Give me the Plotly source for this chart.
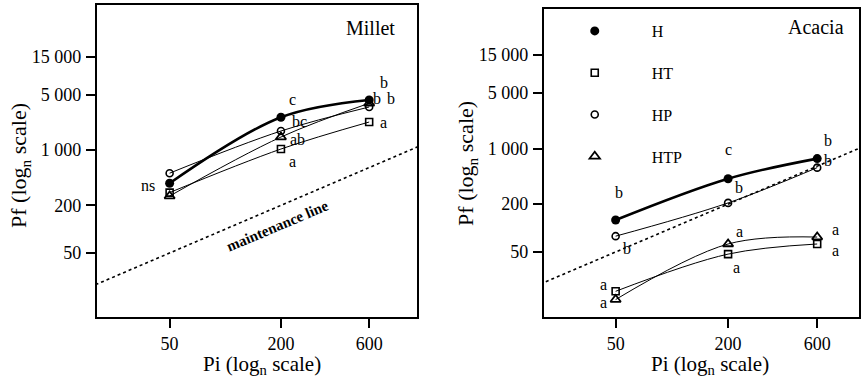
import math
import plotly.graph_objects as go

# ---------------- data ----------------
pi_levels = [50, 200, 600]
treatments = ["H", "HT", "HP", "HTP"]

millet_H = [380, 2600, 4300]
millet_HT = [290, 1030, 2260]
millet_HP = [510, 1740, 3500]
millet_HTP = [262, 1460, 3900]

acacia_H = [126, 417, 747]
acacia_HT = [16, 47, 63]
acacia_HP = [79, 207, 575]
acacia_HTP = [12.6, 63, 77]

millet_letters_H = ["ns", "c", "b"]
millet_letters_HT = ["", "a", "a"]
millet_letters_HP = ["", "bc", "b"]
millet_letters_HTP = ["", "ab", "b"]

acacia_letters_H = ["b", "c", "b"]
acacia_letters_HT = ["a", "a", "a"]
acacia_letters_HP = ["b", "b", "b"]
acacia_letters_HTP = ["a", "a", "a"]

maintenance_pi = [10, 2000]  # maintenance line: Pf = Pi

y_tickvals = [50, 200, 1000, 5000, 15000]
y_ticktext = ["50", "200", "1 000", "5 000", "15 000"]
x_tickvals = [50, 200, 600]
x_ticktext = ["50", "200", "600"]

# ---------------- style ----------------
FONT = "Liberation Serif, Times New Roman, serif"
W, H = 861, 381
styles = {
    "H": dict(marker=dict(symbol="circle", size=9, color="black"), line=dict(color="black", width=2.6)),
    "HT": dict(marker=dict(symbol="square-open", size=7, color="black", line=dict(width=1.6)), line=dict(color="black", width=1)),
    "HP": dict(marker=dict(symbol="circle-open", size=7, color="black", line=dict(width=1.6)), line=dict(color="black", width=1)),
    "HTP": dict(marker=dict(symbol="triangle-up-open", size=9, color="black", line=dict(width=1.8)), line=dict(color="black", width=1)),
}
# label offsets (px) for letters: dx, dy(up)
millet_off = {
    "H": [(-22, -2), (12, 18), (15, 17)],
    "HT": [(0, 0), (12, -12), (14, 0)],
    "HP": [(0, 0), (19, 10), (22, 8)],
    "HTP": [(0, 0), (17, -2), (8, 5)],
}
acacia_off = {
    "H": [(3, 28), (0, 29), (11, 18)],
    "HT": [(-12, 7), (8, -13), (18, -7)],
    "HP": [(11, -12), (11, 15), (11, 7)],
    "HTP": [(-12, -3), (11, 12), (18, 8)],
}

millet = {"H": millet_H, "HT": millet_HT, "HP": millet_HP, "HTP": millet_HTP}
acacia = {"H": acacia_H, "HT": acacia_HT, "HP": acacia_HP, "HTP": acacia_HTP}
millet_letters = {"H": millet_letters_H, "HT": millet_letters_HT, "HP": millet_letters_HP, "HTP": millet_letters_HTP}
acacia_letters = {"H": acacia_letters_H, "HT": acacia_letters_HT, "HP": acacia_letters_HP, "HTP": acacia_letters_HTP}

fig = go.Figure()
annotations = []

draw_order = ["HT", "HTP", "HP", "H"]
for xa, ya, data, letters, offs in [("x", "y", millet, millet_letters, millet_off),
                                     ("x2", "y2", acacia, acacia_letters, acacia_off)]:
    fig.add_trace(go.Scatter(x=maintenance_pi, y=maintenance_pi, mode="lines", xaxis=xa, yaxis=ya,
                             line=dict(color="black", width=1.6, dash="dot"), showlegend=False, hoverinfo="skip"))
    for t in draw_order:
        st = styles[t]
        fig.add_trace(go.Scatter(x=pi_levels, y=data[t], mode="lines+markers", xaxis=xa, yaxis=ya,
                                 line=dict(shape="spline", smoothing=1.0, **st["line"]),
                                 marker=st["marker"], showlegend=False, name=t))
        for i, txt in enumerate(letters[t]):
            if not txt:
                continue
            dx, dy = offs[t][i]
            annotations.append(dict(x=math.log10(pi_levels[i]), y=math.log10(data[t][i]),
                                    xref=xa, yref=ya, text=txt, showarrow=False, xshift=dx, yshift=dy,
                                    xanchor="center", yanchor="middle",
                                    font=dict(family=FONT, size=16, color="black")))

# legend-only traces
for t in treatments:
    fig.add_trace(go.Scatter(x=[None], y=[None], mode="markers", marker=styles[t]["marker"], name=t,
                             legendgroup=t, showlegend=True, xaxis="x2", yaxis="y2"))

def px_x(p):
    return p / W

def px_y(p):
    return 1 - p / H

axis_common = dict(type="log", showgrid=False, zeroline=False, showline=True, linecolor="black", linewidth=2,
                   mirror=True, ticks="outside", ticklen=9, tickwidth=1.6, tickcolor="black",
                   tickfont=dict(family=FONT, size=18, color="black"))

fig.update_layout(
    width=W, height=H, margin=dict(l=0, r=0, t=0, b=0),
    paper_bgcolor="white", plot_bgcolor="white",
    xaxis=dict(domain=[px_x(97), px_x(418)], range=[1.305, 3.037], anchor="y",
               tickvals=x_tickvals, ticktext=x_ticktext, **axis_common),
    yaxis=dict(domain=[px_y(317), px_y(5)], range=[0.890, 4.833], anchor="x",
               tickvals=y_tickvals, ticktext=y_ticktext, ticklabelstandoff=1, **axis_common),
    xaxis2=dict(domain=[px_x(545), 1.0], range=[1.314, 3.002], anchor="y2",
                tickvals=x_tickvals, ticktext=x_ticktext, **axis_common),
    yaxis2=dict(domain=[px_y(317), px_y(9)], range=[0.881, 4.755], anchor="x2",
                tickvals=y_tickvals, ticktext=y_ticktext, ticklabelstandoff=1, **axis_common),
    showlegend=True,
    legend=dict(x=px_x(539), y=px_y(14), xanchor="left", yanchor="top", bgcolor="rgba(0,0,0,0)",
                font=dict(family=FONT, size=16, color="black"), itemwidth=104, tracegroupgap=18,
                traceorder="grouped"),
)

# titles and panel names
title_font = dict(family=FONT, size=21, color="black")
ytitle_font = dict(family=FONT, size=22, color="black")
C = dict(xanchor="center", yanchor="middle", showarrow=False, xref="paper", yref="paper")
annotations += [
    dict(x=px_x(398), y=px_y(28), xref="paper", yref="paper", text="Millet", showarrow=False, xanchor="right",
         yanchor="middle", font=dict(family=FONT, size=20, color="black")),
    dict(x=px_x(848), y=px_y(27), xref="paper", yref="paper", text="Acacia", showarrow=False, xanchor="right",
         yanchor="middle", font=dict(family=FONT, size=20, color="black")),
    dict(x=px_x(263), y=px_y(365), text="Pi (log<sub>n</sub> scale)", font=title_font, **C),
    dict(x=px_x(712), y=px_y(365), text="Pi (log<sub>n</sub> scale)", font=title_font, **C),
    dict(x=px_x(20), y=px_y(165), text="Pf (log<sub>n</sub> scale)", textangle=-90, font=ytitle_font, **C),
    dict(x=px_x(468), y=px_y(163), text="Pf (log<sub>n</sub> scale)", textangle=-90, font=ytitle_font, **C),
    dict(x=px_x(278), y=px_y(226), text="<b>maintenance line</b>", textangle=-23,
         font=dict(family=FONT, size=15, color="black"), **C),
]
fig.update_layout(annotations=annotations)

fig.write_html("out.html")
